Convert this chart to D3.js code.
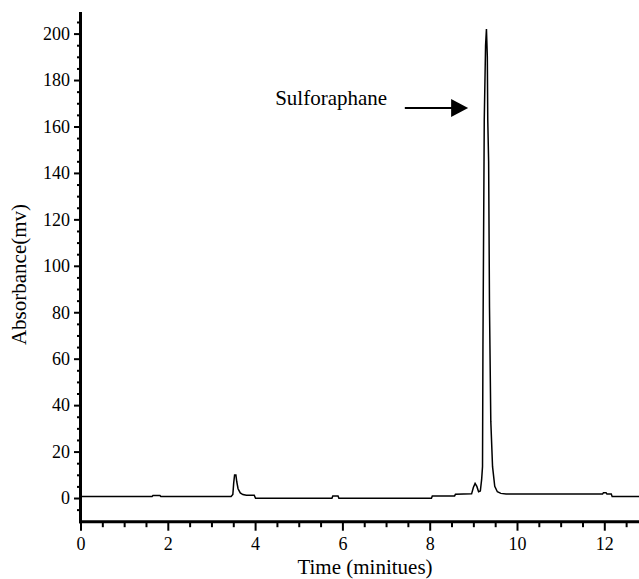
<!DOCTYPE html>
<html>
<head>
<meta charset="utf-8">
<script src="https://cdn.jsdelivr.net/npm/d3@7"></script>
<style>
  body { margin: 0; background: #fff; }
  svg { display: block; }
</style>
</head>
<body>
<div id="chart-container"></div>
<script>
// retention time (min) and absorbance (mv)
const times = [
  0.00, 1.64, 1.66, 1.82, 1.84, 3.45, 3.49, 3.51, 3.53, 3.56,
  3.58, 3.61, 3.66, 3.72, 3.80, 3.98, 4.01, 5.76, 5.78, 5.90,
  5.92, 8.04, 8.06, 8.57, 8.59, 8.96, 9.00, 9.04, 9.08, 9.12,
  9.16, 9.19, 9.21, 9.22, 9.25, 9.28, 9.30, 9.32, 9.33, 9.35,
  9.37, 9.40, 9.44, 9.49, 9.55, 9.63, 9.75, 11.96, 11.98, 12.04,
  12.06, 12.16, 12.18, 12.80
];
const absorbance = [
  0.65, 0.65, 1.1, 1.1, 0.65, 0.65, 1.5, 6.5, 9.9, 9.9,
  7.0, 4.0, 2.2, 1.5, 1.2, 1.2, -0.1, -0.1, 0.9, 0.9,
  -0.1, -0.1, 0.9, 0.9, 1.6, 1.8, 4.5, 6.3, 5.0, 2.7,
  3.0, 8.0, 13.5, 66, 163, 195, 202, 190, 163, 145,
  82, 33, 13.5, 5.0, 2.7, 2.0, 1.7, 1.7, 2.3, 2.3,
  1.7, 1.7, 0.6, 0.6
];

const xTicks = [0, 2, 4, 6, 8, 10, 12];
const yTicks = [0, 20, 40, 60, 80, 100, 120, 140, 160, 180, 200];

// annotation (in data units)
const peakLabel = "Sulforaphane";
const labelAt = { t: 4.46, v: 169.4 };
const arrowFrom = { t: 7.43, v: 168 };
const arrowTo = { t: 8.88, v: 168 };

const width = 639;
const height = 579;
const font = "'Liberation Serif', 'Times New Roman', serif";

const svg = d3
  .select("#chart-container")
  .append("svg")
  .attr("width", width)
  .attr("height", height);

// scales
const x = d3.scaleLinear().domain([0, 12.8]).range([80.5, 80.5 + 12.8 * 43.65]);
const y = d3.scaleLinear().domain([-10.2, 209.3]).range([521.7, 12]);

const data = times.map((t, i) => ({ t: t, v: absorbance[i] }));

// trace
const line = d3
  .line()
  .x((d) => x(d.t))
  .y((d) => y(d.v));

svg
  .append("path")
  .datum(data)
  .attr("d", line)
  .attr("fill", "none")
  .attr("stroke", "#000")
  .attr("stroke-width", 1.5)
  .attr("stroke-linejoin", "miter");

// minor ticks
const xMinor = d3.range(0, 12.81, 0.5).filter((d) => d % 2 !== 0);
const yMinor = d3.range(-5, 209, 5).filter((d) => d % 20 !== 0);

svg
  .append("g")
  .attr("transform", `translate(0,${y(-10.2)})`)
  .call(d3.axisBottom(x).tickValues(xMinor).tickSize(5.5).tickFormat(""))
  .call((g) => g.select(".domain").remove())
  .call((g) => g.selectAll("line").attr("stroke-width", 2));

svg
  .append("g")
  .attr("transform", `translate(${x(0)},0)`)
  .call(d3.axisLeft(y).tickValues(yMinor).tickSize(3.5).tickFormat(""))
  .call((g) => g.select(".domain").remove())
  .call((g) => g.selectAll("line").attr("stroke-width", 2));

// major ticks + labels
svg
  .append("g")
  .attr("transform", `translate(0,${y(-10.2)})`)
  .call(d3.axisBottom(x).tickValues(xTicks).tickSize(9).tickPadding(7).tickFormat(d3.format("d")))
  .call((g) => g.select(".domain").remove())
  .call((g) => g.selectAll("line").attr("stroke-width", 2))
  .call((g) =>
    g.selectAll("text").style("font-family", font).style("font-size", "18px").attr("fill", "#000")
  );

svg
  .append("g")
  .attr("transform", `translate(${x(0)},0)`)
  .call(d3.axisLeft(y).tickValues(yTicks).tickSize(6.5).tickPadding(4).tickFormat(d3.format("d")))
  .call((g) => g.select(".domain").remove())
  .call((g) => g.selectAll("line").attr("stroke-width", 2))
  .call((g) =>
    g.selectAll("text").style("font-family", font).style("font-size", "18px").attr("fill", "#000")
  );

// thick axis lines
svg
  .append("line")
  .attr("x1", x(0))
  .attr("x2", x(0))
  .attr("y1", y(209.3))
  .attr("y2", y(-10.2) + 1.5)
  .attr("stroke", "#000")
  .attr("stroke-width", 3);

svg
  .append("line")
  .attr("x1", x(0) - 1.5)
  .attr("x2", width)
  .attr("y1", y(-10.2))
  .attr("y2", y(-10.2))
  .attr("stroke", "#000")
  .attr("stroke-width", 3);

// axis titles
svg
  .append("text")
  .attr("x", 365)
  .attr("y", 574)
  .attr("text-anchor", "middle")
  .style("font-family", font)
  .style("font-size", "21px")
  .text("Time (minitues)");

svg
  .append("text")
  .attr("transform", "translate(26,274.5) rotate(-90)")
  .attr("text-anchor", "middle")
  .style("font-family", font)
  .style("font-size", "21px")
  .text("Absorbance(mv)");

// annotation: label + arrow pointing at the main peak
svg
  .append("text")
  .attr("x", x(labelAt.t))
  .attr("y", y(labelAt.v))
  .style("font-family", font)
  .style("font-size", "21px")
  .text(peakLabel);

const headLen = 17;
const headHalf = 9;
const tipX = x(arrowTo.t);
const tipY = y(arrowTo.v);

svg
  .append("line")
  .attr("x1", x(arrowFrom.t))
  .attr("y1", y(arrowFrom.v))
  .attr("x2", tipX - headLen + 1)
  .attr("y2", tipY)
  .attr("stroke", "#000")
  .attr("stroke-width", 2);

const head = d3.path();
head.moveTo(tipX, tipY);
head.lineTo(tipX - headLen, tipY - headHalf);
head.lineTo(tipX - headLen, tipY + headHalf);
head.closePath();

svg.append("path").attr("d", head.toString()).attr("fill", "#000");
</script>
</body>
</html>
